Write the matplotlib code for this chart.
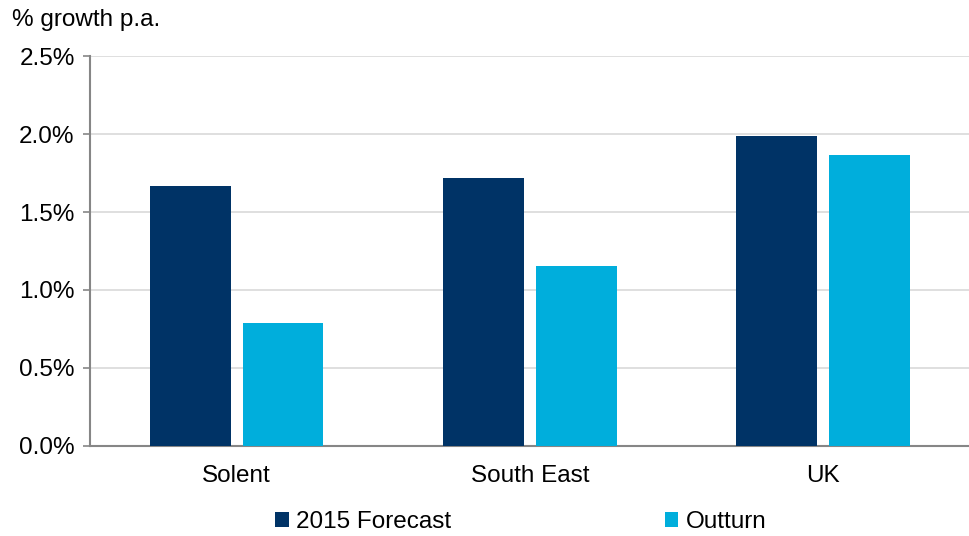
import matplotlib
matplotlib.use("Agg")
import matplotlib.pyplot as plt
import numpy as np
from matplotlib.ticker import FuncFormatter, MultipleLocator

plt.rcParams['font.family'] = ['Liberation Sans', 'DejaVu Sans']

categories = ["Solent", "South East", "UK"]
forecast_2015 = [1.67, 1.72, 1.99]
outturn = [0.79, 1.155, 1.865]
series_names = ["2015 Forecast", "Outturn"]

navy = "#003366"
cyan = "#00AEDC"
fs = 17.5

fig = plt.figure(figsize=(9.7, 5.36), dpi=100)
ax = fig.add_axes([0.0928, 0.1688, 0.907, 0.7258])

x = np.arange(len(categories))
w = 0.276
off = 0.158
ax.bar(x - off, forecast_2015, w, color=navy, label=series_names[0], zorder=3)
ax.bar(x + off, outturn, w, color=cyan, label=series_names[1], zorder=3)

ax.set_xlim(-0.5, 2.5)
ax.set_ylim(0, 2.5)
ax.yaxis.set_major_locator(MultipleLocator(0.5))
ax.yaxis.set_major_formatter(FuncFormatter(lambda v, p: f"{v:.1f}%"))
ax.grid(axis='y', color='#d9d9d9', linewidth=1.2, zorder=0)
ax.set_axisbelow(True)

for s in ['top', 'right']:
    ax.spines[s].set_visible(False)
for s in ['left', 'bottom']:
    ax.spines[s].set_color('#868686')
    ax.spines[s].set_linewidth(1.5)

ax.set_xticks(x)
ax.set_xticklabels(categories)
ax.tick_params(axis='x', length=0, pad=14, labelsize=fs)
ax.tick_params(axis='y', length=5, width=1.2, color='#868686', pad=6, labelsize=fs)

fig.text(12 / 970, 1 - 20 / 536, "% growth p.a.", fontsize=fs, va='center', ha='left')

fig.legend(loc='center', bbox_to_anchor=(521 / 970, 1 - 522 / 536), ncol=2,
           frameon=False, fontsize=fs, handlelength=0.55, handleheight=0.55,
           handletextpad=0.3, columnspacing=8.8)

fig.savefig("out.png", dpi=100)
